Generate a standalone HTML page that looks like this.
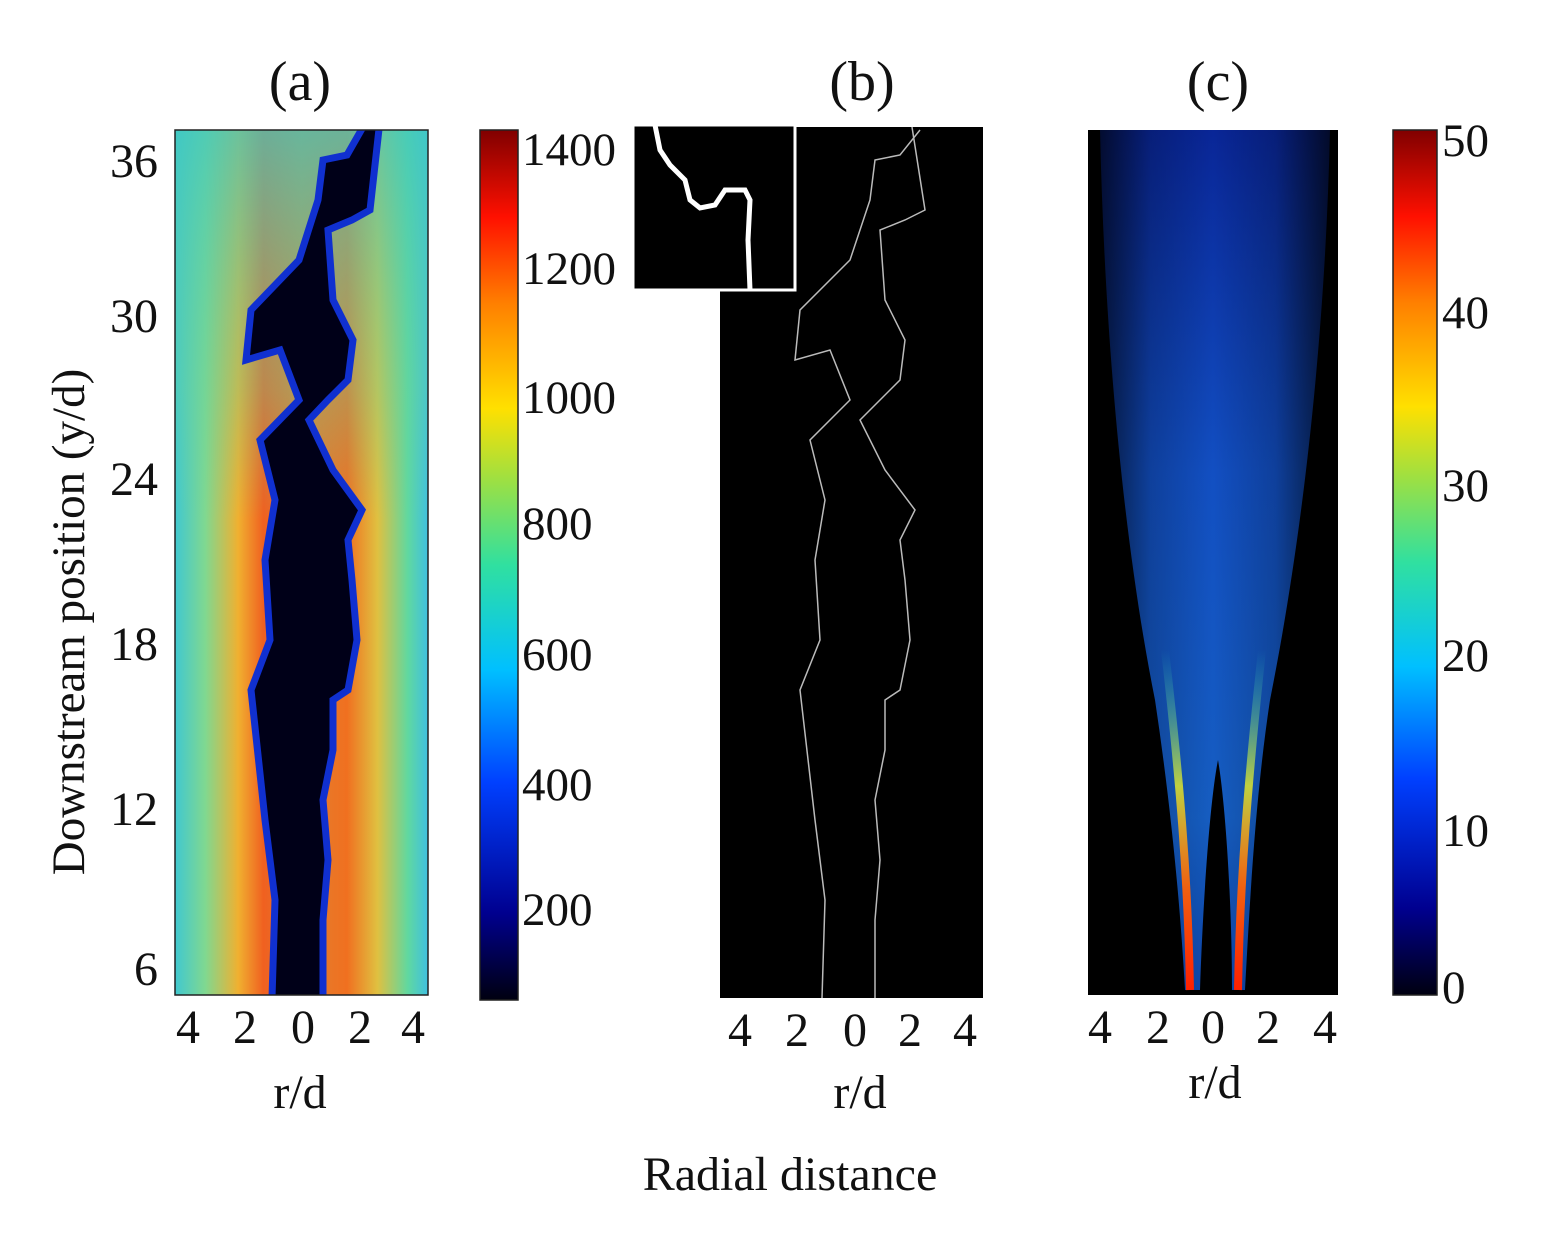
<!DOCTYPE html>
<html><head><meta charset="utf-8"><style>
html,body{margin:0;padding:0;background:#fff;}
text{font-family:"Liberation Serif",serif;fill:#111;}
</style></head><body>
<svg width="1541" height="1233" viewBox="0 0 1541 1233" xmlns="http://www.w3.org/2000/svg">
<defs>
<linearGradient id="jet" x1="0" y1="1" x2="0" y2="0">
<stop offset="0" stop-color="#000010"/>
<stop offset="0.1" stop-color="#00008f"/>
<stop offset="0.25" stop-color="#0040ff"/>
<stop offset="0.38" stop-color="#00c0ff"/>
<stop offset="0.5" stop-color="#30e0a0"/>
<stop offset="0.6" stop-color="#a0e040"/>
<stop offset="0.68" stop-color="#ffe000"/>
<stop offset="0.8" stop-color="#ff8000"/>
<stop offset="0.9" stop-color="#ff1000"/>
<stop offset="1" stop-color="#800000"/>
</linearGradient>
<linearGradient id="pa" x1="0" y1="0" x2="1" y2="0">
<stop offset="0" stop-color="#40c8d0"/>
<stop offset="0.12" stop-color="#80d890"/>
<stop offset="0.25" stop-color="#f0b030"/>
<stop offset="0.35" stop-color="#f06020"/>
<stop offset="0.5" stop-color="#e08030"/>
<stop offset="0.68" stop-color="#f07020"/>
<stop offset="0.8" stop-color="#e0c040"/>
<stop offset="0.92" stop-color="#60d8a0"/>
<stop offset="1" stop-color="#40c0e0"/>
</linearGradient>
<linearGradient id="top" x1="0" y1="0" x2="0" y2="1">
<stop offset="0" stop-color="#40c8c0" stop-opacity="0.75"/>
<stop offset="0.3" stop-color="#60d0a0" stop-opacity="0.35"/>
<stop offset="0.45" stop-color="#60d0a0" stop-opacity="0"/>
<stop offset="1" stop-color="#60d0a0" stop-opacity="0"/>
</linearGradient>
<linearGradient id="pc" x1="0" y1="0" x2="0" y2="1">
<stop offset="0" stop-color="#0a2aa8"/>
<stop offset="0.4" stop-color="#1458d8"/>
<stop offset="0.8" stop-color="#1868d8"/>
<stop offset="1" stop-color="#1050c0"/>
</linearGradient>
<linearGradient id="edge" x1="0" y1="0" x2="1" y2="0">
<stop offset="0" stop-color="#000" stop-opacity="0.8"/>
<stop offset="0.25" stop-color="#000" stop-opacity="0.2"/>
<stop offset="0.5" stop-color="#000" stop-opacity="0"/>
<stop offset="0.75" stop-color="#000" stop-opacity="0.2"/>
<stop offset="1" stop-color="#000" stop-opacity="0.8"/>
</linearGradient>
<linearGradient id="redl" x1="0" y1="1" x2="0" y2="0">
<stop offset="0" stop-color="#ff2000"/>
<stop offset="0.3" stop-color="#f06010"/>
<stop offset="0.6" stop-color="#c0d040"/>
<stop offset="1" stop-color="#20c0c0" stop-opacity="0"/>
</linearGradient>
<clipPath id="ca"><rect x="175" y="130" width="253" height="865"/></clipPath>
</defs>
<!-- Panel a -->
<g clip-path="url(#ca)">
<rect x="175" y="130" width="253" height="865" fill="url(#pa)"/>
<rect x="175" y="130" width="253" height="865" fill="url(#top)"/>
<polygon fill="#000018" stroke="#1030d0" stroke-width="7" points="272,998 275,900 265,820 251,690 270,640 265,560 275,500 260,440 299,400 280,350 246,360 251,310 299,260 318,200 323,160 347,155 367,120 380,120 370,210 352,220 328,230 333,300 353,340 348,380 328,400 309,420 333,470 362,510 348,540 352,580 357,640 348,690 333,700 333,750 323,800 328,860 323,920 323,998"/>
</g>
<rect x="175" y="130" width="253" height="865" fill="none" stroke="#222" stroke-width="1.5"/>
<rect x="480" y="130" width="38" height="870" fill="url(#jet)" stroke="#222" stroke-width="1.5"/>
<g font-size="47">
<text x="522" y="165">1400</text><text x="522" y="284">1200</text><text x="522" y="413">1000</text>
<text x="522" y="539">800</text><text x="522" y="670">600</text><text x="522" y="800">400</text><text x="522" y="925">200</text>
</g>
<g font-size="48" text-anchor="end">
<text x="158" y="177">36</text><text x="158" y="332">30</text><text x="158" y="495">24</text>
<text x="158" y="660">18</text><text x="158" y="825">12</text><text x="158" y="985">6</text>
</g>
<text transform="translate(84,622) rotate(-90)" font-size="47" text-anchor="middle">Downstream position (y/d)</text>
<g font-size="48" text-anchor="middle">
<text x="188" y="1043">4</text><text x="245" y="1043">2</text><text x="303" y="1043">0</text><text x="360" y="1043">2</text><text x="413" y="1043">4</text>
<text x="300" y="1108">r/d</text>
<text x="740" y="1046">4</text><text x="797" y="1046">2</text><text x="855" y="1046">0</text><text x="910" y="1046">2</text><text x="965" y="1046">4</text>
<text x="860" y="1108">r/d</text>
<text x="1100" y="1043">4</text><text x="1158" y="1043">2</text><text x="1213" y="1043">0</text><text x="1268" y="1043">2</text><text x="1325" y="1043">4</text>
<text x="1215" y="1098">r/d</text>
<text x="300" y="100" font-size="56">(a)</text><text x="862" y="100" font-size="56">(b)</text><text x="1218" y="100" font-size="56">(c)</text>
<text x="790" y="1190" font-size="48">Radial distance</text>
</g>
<!-- Panel b -->
<rect x="720" y="127" width="263" height="871" fill="#000"/>
<polyline fill="none" stroke="#bbb" stroke-width="1.5" points="822,998 825,900 815,820 800,690 820,640 815,560 825,500 810,440 850,400 830,350 795,360 800,310 850,260 870,200 875,160 900,155 920,130"/>
<polyline fill="none" stroke="#bbb" stroke-width="1.5" points="912,127 925,210 905,220 880,230 885,300 905,340 900,380 880,400 860,420 885,470 915,510 900,540 905,580 910,640 900,690 885,700 885,750 875,800 880,860 875,920 875,998"/>
<rect x="633" y="125" width="162" height="165" fill="#000" stroke="#fff" stroke-width="3"/>
<polyline fill="none" stroke="#fff" stroke-width="5" points="655,125 660,150 670,165 685,180 690,200 700,208 715,205 725,190 745,190 750,200 748,240 750,290"/>
<!-- Panel c -->
<rect x="1088" y="130" width="250" height="865" fill="#000"/>
<path fill="url(#pc)" opacity="0.9" d="M1100,130 L1330,130 C1325,350 1300,550 1270,700 C1255,800 1250,900 1245,990 L1232,990 C1232,900 1225,800 1218,760 C1210,800 1203,900 1200,990 L1185,990 C1180,900 1170,800 1155,700 C1125,550 1105,350 1100,130 Z"/>
<rect x="1088" y="130" width="250" height="865" fill="url(#edge)"/>
<path fill="none" stroke="url(#redl)" stroke-width="8" d="M1190,990 C1188,880 1180,780 1165,650"/>
<path fill="none" stroke="url(#redl)" stroke-width="8" d="M1238,990 C1240,880 1248,780 1262,650"/>
<rect x="1393" y="130" width="44" height="865" fill="url(#jet)" stroke="#222" stroke-width="1.5"/>
<g font-size="47">
<text x="1442" y="156">50</text><text x="1442" y="328">40</text><text x="1442" y="501">30</text>
<text x="1442" y="671">20</text><text x="1442" y="846">10</text><text x="1442" y="1003">0</text>
</g>
</svg>
</body></html>
